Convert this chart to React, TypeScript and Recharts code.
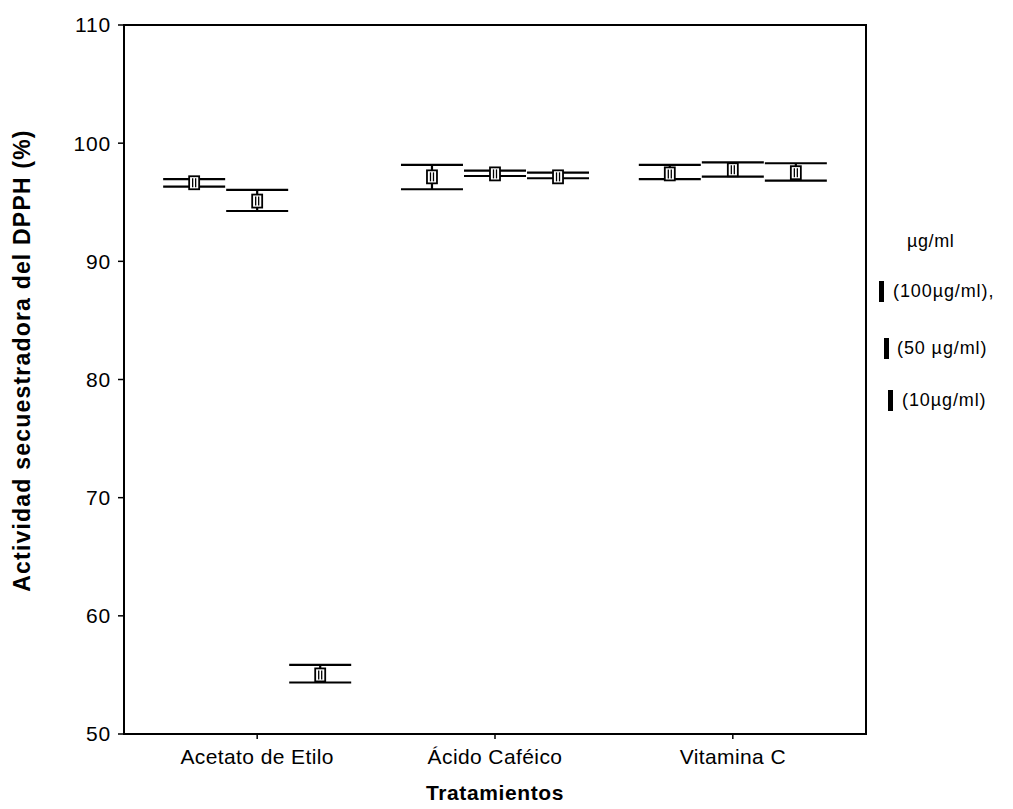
import React from 'react';
import { ScatterChart, Scatter, XAxis, YAxis, ErrorBar, ReferenceArea, Legend, Label } from 'recharts';

const FONT = '"Liberation Sans", Arial, Helvetica, sans-serif';

const categories = ['Acetato de Etilo', 'Ácido Caféico', 'Vitamina C'];
const legendTitle = 'µg/ml';
const seriesNames = ['(100µg/ml),', '(50 µg/ml)', '(10µg/ml)'];

const mean100 = [96.65, 97.15, 97.4];
const low100 = [96.32, 96.1, 96.95];
const high100 = [96.95, 98.16, 98.16];

const mean50 = [95.1, 97.4, 97.75];
const low50 = [94.26, 97.22, 97.17];
const high50 = [96.04, 97.67, 98.38];

const mean10 = [55.0, 97.15, 97.5];
const low10 = [54.36, 97.03, 96.83];
const high10 = [55.85, 97.5, 98.3];

const yTicks = [50, 60, 70, 80, 90, 100, 110];
const xTicks = [1, 2, 3];
const seriesOffsets = [-0.265, 0, 0.265];

const build = (means: number[], lows: number[], highs: number[], off: number) =>
  means.map((m, i) => ({ x: i + 1 + off, y: m, err: [m - lows[i], highs[i] - m] }));

const series = [
  build(mean100, low100, high100, seriesOffsets[0]),
  build(mean50, low50, high50, seriesOffsets[1]),
  build(mean10, low10, high10, seriesOffsets[2]),
];

const BoxShape = (props: any) => {
  const { cx, cy } = props;
  if (cx == null || cy == null) return null;
  return (
    <g>
      <rect x={cx - 5} y={cy - 6.5} width={10} height={13} fill="#fff" stroke="#000" strokeWidth={1.8} />
      <line x1={cx - 1.5} x2={cx - 1.5} y1={cy - 4.5} y2={cy + 4.5} stroke="#000" strokeWidth={1.3} />
      <line x1={cx + 1.5} x2={cx + 1.5} y1={cy - 4.5} y2={cy + 4.5} stroke="#000" strokeWidth={1.3} />
    </g>
  );
};

const legendRows = [
  { bar: 11, text: 25, cy: 71 },
  { bar: 16, text: 29, cy: 128 },
  { bar: 20, text: 34, cy: 180 },
];

const LegendContent = () => (
  <div style={{ position: 'relative', width: 137, height: 200, fontFamily: FONT, color: '#000' }}>
    <div style={{ position: 'absolute', left: 39, top: 11, fontSize: 18, letterSpacing: 0.6, lineHeight: '20px', whiteSpace: 'nowrap' }}>
      {legendTitle}
    </div>
    {seriesNames.map((n, i) => (
      <React.Fragment key={n}>
        <div style={{ position: 'absolute', left: legendRows[i].bar, top: legendRows[i].cy - 10, width: 5, height: 21, background: '#000' }} />
        <div style={{ position: 'absolute', left: legendRows[i].text, top: legendRows[i].cy - 10, fontSize: 18, letterSpacing: 0.9, lineHeight: '20px', whiteSpace: 'nowrap' }}>
          {n}
        </div>
      </React.Fragment>
    ))}
  </div>
);

const YLabel = (p: any) => {
  const vb = p.viewBox || { x: 56, y: 17, width: 60, height: 709 };
  const x = vb.x - 42;
  const y = vb.y + vb.height / 2 - 19;
  return (
    <text
      x={x}
      y={y}
      transform={`rotate(-90, ${x}, ${y})`}
      textAnchor="middle"
      dominantBaseline="central"
      fontFamily={FONT}
      fontWeight="bold"
      fontSize={23}
      letterSpacing={1.2}
      fill="#000"
    >
      Actividad secuestradora del DPPH (%)
    </text>
  );
};

export default function App() {
  return (
    <ScatterChart width={997} height={800} margin={{ top: 17, right: 139, left: 56, bottom: 8 }}>
      <XAxis
        type="number"
        dataKey="x"
        domain={[0.44, 3.56]}
        ticks={xTicks}
        interval={0}
        tickFormatter={(v: number) => categories[v - 1] ?? ''}
        tickSize={5}
        tickMargin={10}
        height={66}
        axisLine={{ stroke: '#000', strokeWidth: 2 }}
        tickLine={{ stroke: '#000', strokeWidth: 1.5 }}
        tick={{ fill: '#000', fontSize: 21, fontFamily: FONT, letterSpacing: 0.4 }}
        allowDataOverflow
      >
        <Label
          value="Tratamientos"
          position="insideBottom"
          offset={0}
          fill="#000"
          style={{ fontWeight: 'bold', fontSize: 21, fontFamily: FONT, letterSpacing: 0.6, fill: '#000' }}
        />
      </XAxis>
      <YAxis
        type="number"
        dataKey="y"
        domain={[50, 110]}
        ticks={yTicks}
        interval={0}
        width={60}
        tickSize={6}
        tickMargin={7}
        axisLine={{ stroke: '#000', strokeWidth: 2 }}
        tickLine={{ stroke: '#000', strokeWidth: 1.5 }}
        tick={{ fill: '#000', fontSize: 21, fontFamily: FONT, letterSpacing: 0.8 }}
        allowDataOverflow
      >
        <Label content={YLabel} />
      </YAxis>
      <ReferenceArea x1={0.44} x2={3.56} y1={50} y2={110} fill="none" fillOpacity={0} stroke="#000" strokeWidth={2} ifOverflow="visible" />
      {series.map((d, i) => (
        <Scatter
          key={seriesNames[i]}
          name={seriesNames[i]}
          data={d}
          fill="#000"
          shape={BoxShape}
          isAnimationActive={false}
        >
          <ErrorBar dataKey="err" direction="y" width={31} stroke="#000" strokeWidth={2.2} isAnimationActive={false} />
        </Scatter>
      ))}
      <Legend
        layout="horizontal"
        align="center"
        verticalAlign="middle"
        content={LegendContent}
        wrapperStyle={{ left: 860, top: 212, width: 137 }}
      />
    </ScatterChart>
  );
}
